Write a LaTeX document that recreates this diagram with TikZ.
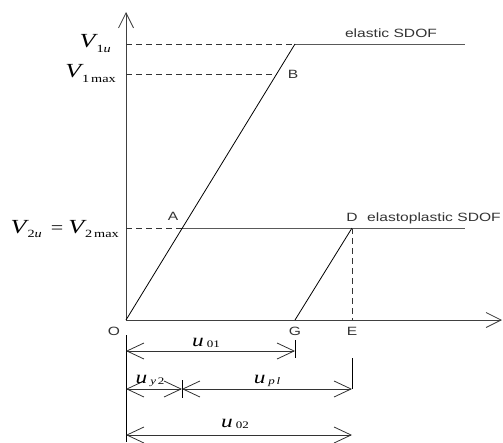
\documentclass[tikz,border=0pt]{standalone}
\usepackage{fontspec}
\setmainfont{Liberation Sans}[FakeStretch=1.3]
\newfontfamily\tms{Liberation Serif}[FakeStretch=1.3]
\usetikzlibrary{arrows.meta}
\newcommand\bigV[2]{{\tms\fontsize{20}{20}\selectfont\itshape V}\kern1pt{\tms\fontsize{11}{11}\selectfont\raisebox{#2}{#1}}}
\newcommand\smu[1]{{\tms\fontsize{18}{18}\selectfont\itshape u}\kern3pt{\tms\fontsize{10}{10}\selectfont\raisebox{-1pt}{#1}}}
\begin{document}
\begin{tikzpicture}[x=1pt,y=-1pt,
  ax/.style={line width=0.8pt,draw=black!75},
  ln/.style={line width=0.8pt,draw=black},
  hl/.style={line width=0.9pt,draw=black!65},
  dsh/.style={line width=0.8pt,draw=black!80,dash pattern=on 6pt off 4pt},
  lbl/.style={font=\fontsize{12}{12}\selectfont,inner sep=0pt,text=black!80},
  ptlbl/.style={font=\fontsize{12}{12}\selectfont,inner sep=0pt,text=black!80},
  dimln/.style={line width=0.8pt,draw=black!80,
    {Straight Barb[length=17pt,width=16pt]}-{Straight Barb[length=17pt,width=16pt]}},
  axarr/.style={-{Straight Barb[length=15pt,width=15pt]}},
  mlbl/.style={inner sep=0pt}]
\useasboundingbox (0,0) rectangle (503,442);
% key points
\coordinate (O) at (126,320);
\coordinate (Ytop) at (126,12);
\coordinate (Xend) at (502,320);
\coordinate (Y1u) at (126,44);
\coordinate (P1u) at (295,44);
\coordinate (R1u) at (465,44);
\coordinate (Y1m) at (126,74);
\coordinate (B) at (277,74);
\coordinate (Y2) at (126,228);
\coordinate (A) at (182,228);
\coordinate (D) at (352,228);
\coordinate (R2) at (465,228);
\coordinate (G) at (295,320);
\coordinate (E) at (352,320);
% dimension points
\coordinate (o1) at (126,335);
\coordinate (o2) at (126,442);
\coordinate (d1a) at (126,351);
\coordinate (d1b) at (295,351);
\coordinate (t1a) at (295,340);
\coordinate (t1b) at (295,358);
\coordinate (d2a) at (126,389);
\coordinate (d2m) at (182,389);
\coordinate (d2b) at (352,389);
\coordinate (t2a) at (182,380);
\coordinate (t2b) at (182,398);
\coordinate (e1) at (352,358);
\coordinate (d3a) at (126,435);
\coordinate (d3b) at (352,435);
% axes
\draw[ax,axarr] (O) -- (Ytop);
\draw[ax,axarr] (O) -- (Xend);
% dashed guides
\draw[dsh] (Y1u) -- (P1u);
\draw[dsh] (Y1m) -- (B);
\draw[dsh] (Y2) -- (A);
\draw[dsh] (D) -- (E);
% horizontal limits
\draw[hl] (P1u) -- (R1u);
\draw[hl] (A) -- (R2);
% elastic and unloading lines
\draw[ln] (O) -- (P1u);
\draw[ln] (G) -- (D);
% dimension lines
\draw[ln] (o1) -- (o2);
\draw[ln] (t1a) -- (t1b);
\draw[ln] (t2a) -- (t2b);
\draw[ln] (e1) -- (d2b);
\draw[dimln] (d1a) -- (d1b);
\draw[dimln] (d2a) -- (d2m);
\draw[dimln] (d2m) -- (d2b);
\draw[dimln] (d3a) -- (d3b);
% point labels
\node[ptlbl] (lO) at (114,331) {O};
\node[ptlbl] (lG) at (295,331) {G};
\node[ptlbl] (lE) at (352,331) {E};
\node[ptlbl] (lA) at (173,216) {A};
\node[ptlbl] (lB) at (293,74) {B};
\node[ptlbl] (lD) at (352,217) {D};
\node[lbl] (lel) at (391,33) {elastic SDOF};
\node[lbl,anchor=base west] (lep) at (367,221) {elastoplastic SDOF};
% axis value labels
\node[mlbl,anchor=east] (v1u) at (111,44) {\bigV{1\textit{u}}{-5pt}};
\node[mlbl,anchor=east] (v1m) at (116,74) {\bigV{1\,max}{-5pt}};
\node[mlbl,anchor=east] (v2) at (119,229) {\bigV{2\textit{u}}{-4.5pt}\hspace{9pt}{\tms\fontsize{17}{17}\selectfont =}\hspace{5pt}\bigV{2\,max}{-4.5pt}};
% dimension labels
\node[mlbl] (u01) at (206,343) {\smu{01}};
\node[mlbl] (uy2) at (150,381) {\smu{\textit{y}\,2}};
\node[mlbl] (upl) at (267,381) {\smu{\textit{p\,l}}};
\node[mlbl] (u02) at (235,424) {\smu{02}};
\end{tikzpicture}
\end{document}
